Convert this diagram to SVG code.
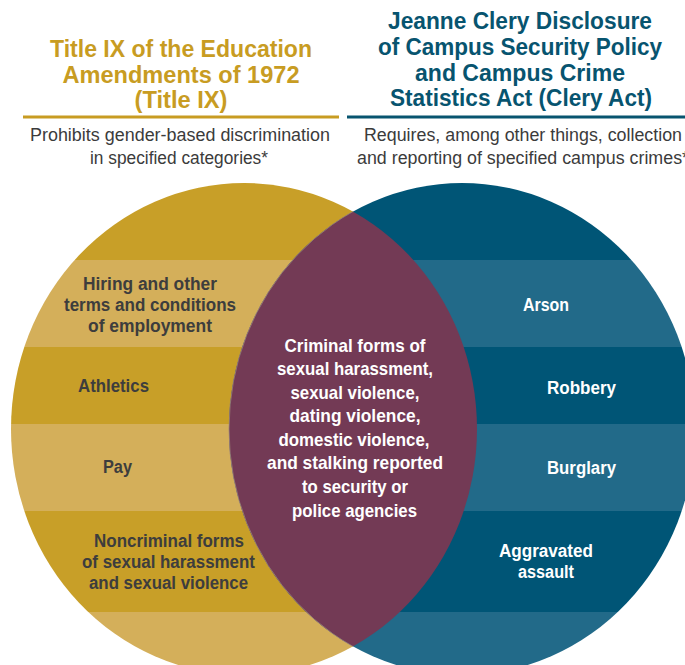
<svg xmlns="http://www.w3.org/2000/svg" width="685" height="665" viewBox="0 0 685 665">
<style>
text{font-family:"Liberation Sans",Arial,sans-serif;text-anchor:middle}
.t{font-size:23.5px;font-weight:bold}
.tg{fill:#C89C22}
.tb{fill:#07546F}
.sub{font-size:17.5px;fill:#3B3B3B}
.lbl{font-size:18px;font-weight:bold;fill:#3D3D3D}
.wl{font-size:18px;font-weight:bold;fill:#FFFFFF}
.ctr{font-size:19px;font-weight:bold;fill:#FFFFFF}
.gd{fill:#C89F28}.gl{fill:#D4AF5A}
.bd{fill:#005576}.bl{fill:#226A89}
</style>
<defs>
<clipPath id="clipL"><ellipse cx="244" cy="429" rx="233" ry="246"/></clipPath>
<clipPath id="clipR"><ellipse cx="462" cy="429" rx="233" ry="246"/></clipPath>
</defs>
<rect width="685" height="665" fill="#FFFFFF"/>

<g id="header-title-ix">
<text class="t tg" x="181" y="57" textLength="262" lengthAdjust="spacingAndGlyphs">Title IX of the Education</text>
<text class="t tg" x="181" y="83" textLength="237" lengthAdjust="spacingAndGlyphs">Amendments of 1972</text>
<text class="t tg" x="181" y="108" textLength="93" lengthAdjust="spacingAndGlyphs">(Title IX)</text>
<rect x="23" y="115.5" width="316" height="3" fill="#C89C22"/>
<text class="sub" x="180" y="141" textLength="300" lengthAdjust="spacingAndGlyphs">Prohibits gender-based discrimination</text>
<text class="sub" x="179" y="164" textLength="178" lengthAdjust="spacingAndGlyphs">in specified categories*</text>
</g>

<g id="header-clery-act">
<text class="t tb" x="520" y="29" textLength="264" lengthAdjust="spacingAndGlyphs">Jeanne Clery Disclosure</text>
<text class="t tb" x="520" y="55" textLength="284" lengthAdjust="spacingAndGlyphs">of Campus Security Policy</text>
<text class="t tb" x="520" y="81" textLength="210" lengthAdjust="spacingAndGlyphs">and Campus Crime</text>
<text class="t tb" x="521" y="106" textLength="262" lengthAdjust="spacingAndGlyphs">Statistics Act (Clery Act)</text>
<rect x="347" y="115.5" width="340" height="3" fill="#07546F"/>
<text class="sub" x="523" y="141" textLength="318" lengthAdjust="spacingAndGlyphs">Requires, among other things, collection</text>
<text class="sub" x="523" y="164" textLength="332" lengthAdjust="spacingAndGlyphs">and reporting of specified campus crimes*</text>
</g>

<g id="title-ix-circle">
<g clip-path="url(#clipL)">
<rect class="gd" x="0" y="170" width="500" height="90"/>
<rect class="gl" x="0" y="260" width="500" height="87"/>
<rect class="gd" x="0" y="347" width="500" height="77"/>
<rect class="gl" x="0" y="424" width="500" height="87"/>
<rect class="gd" x="0" y="511" width="500" height="101"/>
<rect class="gl" x="0" y="612" width="500" height="80"/>
</g>
</g>

<g id="clery-circle">
<g clip-path="url(#clipR)">
<rect class="bd" x="200" y="170" width="500" height="90"/>
<rect class="bl" x="200" y="260" width="500" height="87"/>
<rect class="bd" x="200" y="347" width="500" height="77"/>
<rect class="bl" x="200" y="424" width="500" height="87"/>
<rect class="bd" x="200" y="511" width="500" height="101"/>
<rect class="bl" x="200" y="612" width="500" height="80"/>
</g>
</g>

<g id="overlap">
<g clip-path="url(#clipL)">
<ellipse cx="462" cy="429" rx="233" ry="246" fill="#733A55" stroke="#9C8478" stroke-width="0.8"/>
</g>
</g>

<g id="label-hiring">
<text class="lbl" x="150" y="290" textLength="134" lengthAdjust="spacingAndGlyphs">Hiring and other</text>
<text class="lbl" x="150" y="311" textLength="172" lengthAdjust="spacingAndGlyphs">terms and conditions</text>
<text class="lbl" x="150" y="331.5" textLength="124" lengthAdjust="spacingAndGlyphs">of employment</text>
</g>
<g id="label-athletics">
<text class="lbl" x="113.5" y="392" textLength="71" lengthAdjust="spacingAndGlyphs">Athletics</text>
</g>
<g id="label-pay">
<text class="lbl" x="117.5" y="473" textLength="29" lengthAdjust="spacingAndGlyphs">Pay</text>
</g>
<g id="label-noncriminal">
<text class="lbl" x="169" y="547" textLength="150" lengthAdjust="spacingAndGlyphs">Noncriminal forms</text>
<text class="lbl" x="168.5" y="568" textLength="173" lengthAdjust="spacingAndGlyphs">of sexual harassment</text>
<text class="lbl" x="168.5" y="589" textLength="159" lengthAdjust="spacingAndGlyphs">and sexual violence</text>
</g>

<g id="label-criminal">
<text class="ctr" x="355" y="352" textLength="141" lengthAdjust="spacingAndGlyphs">Criminal forms of</text>
<text class="ctr" x="355" y="375" textLength="156" lengthAdjust="spacingAndGlyphs">sexual harassment,</text>
<text class="ctr" x="355" y="398.5" textLength="129" lengthAdjust="spacingAndGlyphs">sexual violence,</text>
<text class="ctr" x="355" y="422" textLength="131" lengthAdjust="spacingAndGlyphs">dating violence,</text>
<text class="ctr" x="354" y="445.5" textLength="151" lengthAdjust="spacingAndGlyphs">domestic violence,</text>
<text class="ctr" x="355" y="469" textLength="176" lengthAdjust="spacingAndGlyphs">and stalking reported</text>
<text class="ctr" x="355" y="493" textLength="106" lengthAdjust="spacingAndGlyphs">to security or</text>
<text class="ctr" x="354.5" y="516.5" textLength="125" lengthAdjust="spacingAndGlyphs">police agencies</text>
</g>

<g id="label-arson">
<text class="wl" x="546" y="311" textLength="46" lengthAdjust="spacingAndGlyphs">Arson</text>
</g>
<g id="label-robbery">
<text class="wl" x="581.5" y="394" textLength="69" lengthAdjust="spacingAndGlyphs">Robbery</text>
</g>
<g id="label-burglary">
<text class="wl" x="581.5" y="474" textLength="69" lengthAdjust="spacingAndGlyphs">Burglary</text>
</g>
<g id="label-aggravated">
<text class="wl" x="546" y="557" textLength="94" lengthAdjust="spacingAndGlyphs">Aggravated</text>
<text class="wl" x="546" y="578" textLength="56" lengthAdjust="spacingAndGlyphs">assault</text>
</g>
</svg>
